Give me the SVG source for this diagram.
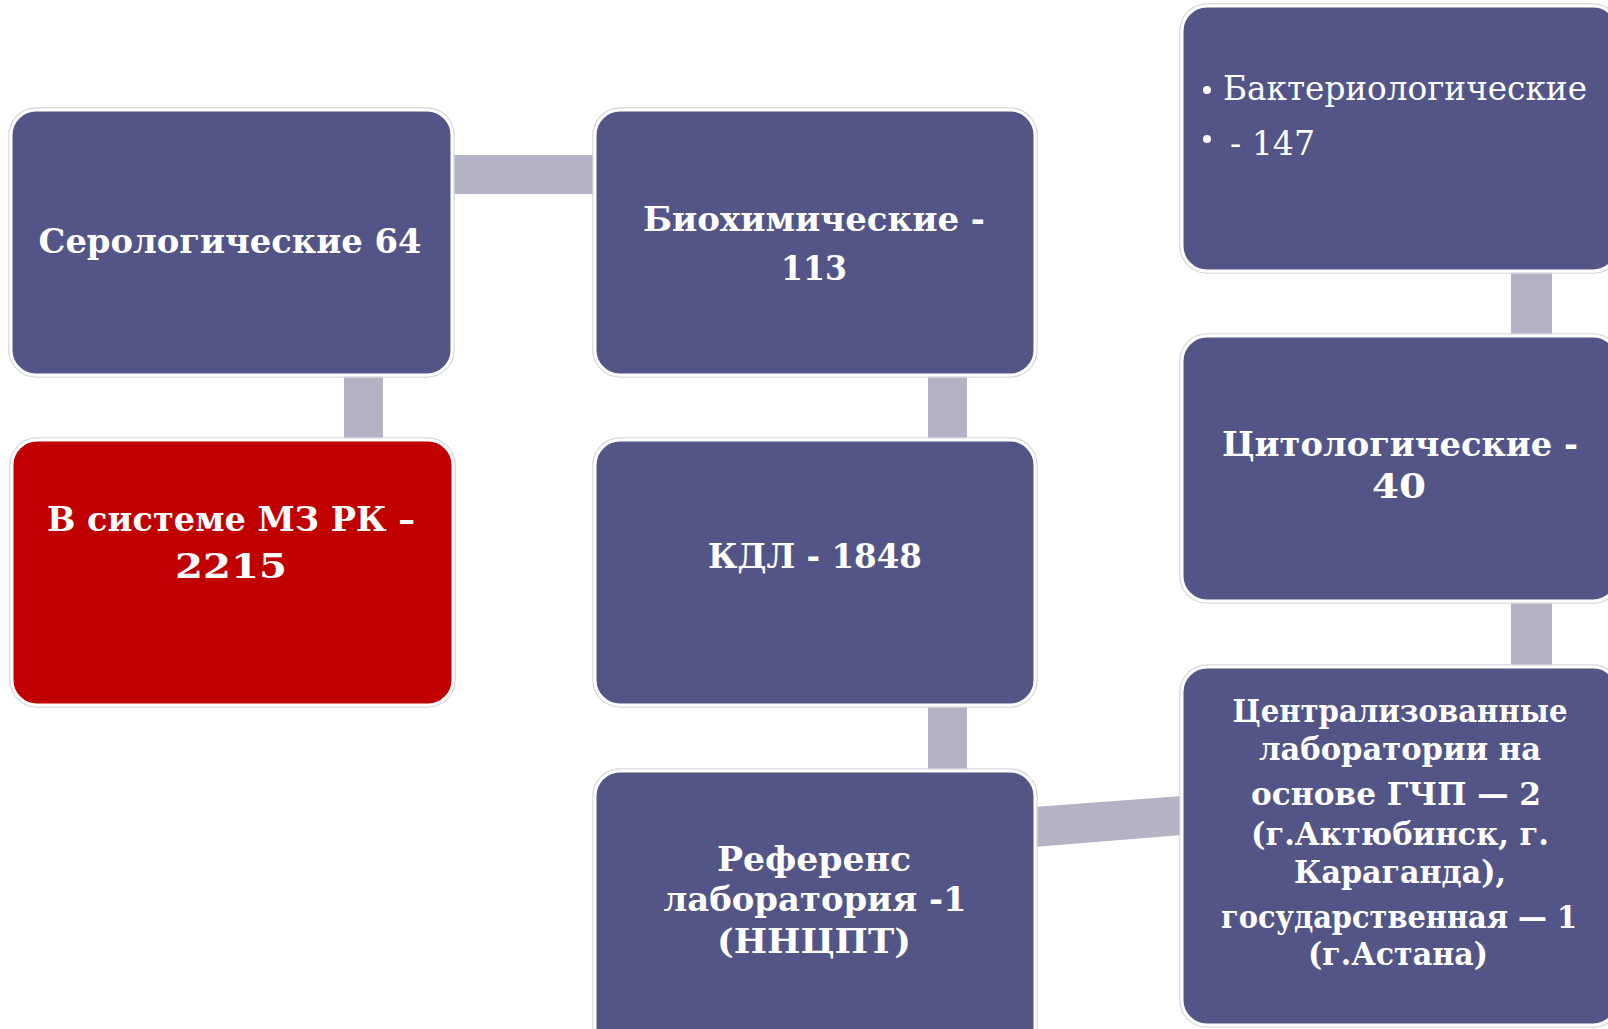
<svg xmlns="http://www.w3.org/2000/svg" width="1608" height="1029" viewBox="0 0 1608 1029">
  <style>
    .box { fill: #535587; stroke: #ffffff; stroke-width: 3; }
    .red { fill: #c00000; stroke: #ffffff; stroke-width: 3; }
    .halo { fill: none; stroke: #d6d6dc; stroke-width: 1.5; }
    .conn { fill: #b3b3c5; stroke: none; }
    .t { font-family: "DejaVu Serif", "Liberation Serif", serif; font-weight: bold; font-size: 34px; fill: #ffffff; text-anchor: middle; }
    .ts { font-family: "DejaVu Serif", "Liberation Serif", serif; font-weight: bold; font-size: 31px; fill: #ffffff; text-anchor: middle; }
    .tr { font-family: "DejaVu Serif", "Liberation Serif", serif; font-weight: normal; font-size: 34px; fill: #ffffff; }
  </style>
  <rect width="1608" height="1029" fill="#ffffff"/>

  <g id="connectors">
    <rect class="conn" x="451" y="155" width="144" height="39"/>
    <rect class="conn" x="344" y="374" width="39" height="67"/>
    <rect class="conn" x="928" y="374" width="39" height="67"/>
    <rect class="conn" x="928" y="705" width="39" height="67"/>
    <rect class="conn" x="1511" y="270" width="41" height="67"/>
    <rect class="conn" x="1511" y="600" width="41" height="68"/>
    <polygon class="conn" points="1034,807 1182,796 1182,835 1034,847"/>
  </g>

  <g id="n1">
    <rect class="halo" x="9" y="108" width="445" height="269" rx="27"/>
    <rect class="box" x="11" y="110" width="441" height="265" rx="25"/>
    <text class="t" x="230" y="253" textLength="383" lengthAdjust="spacingAndGlyphs">Серологические 64</text>
  </g>

  <g id="n2">
    <rect class="halo" x="593" y="108" width="444" height="269" rx="27"/>
    <rect class="box" x="595" y="110" width="440" height="265" rx="25"/>
    <text class="t" x="814" y="231" textLength="342" lengthAdjust="spacingAndGlyphs">Биохимические -</text>
    <text class="t" x="814" y="280" textLength="66" lengthAdjust="spacingAndGlyphs">113</text>
  </g>

  <g id="n3">
    <rect class="halo" x="1180" y="4" width="440" height="269" rx="27"/>
    <rect class="box" x="1182" y="6" width="436" height="265" rx="25"/>
    <circle cx="1207" cy="90" r="4" fill="#ffffff"/>
    <text class="tr" x="1223" y="100" textLength="364" lengthAdjust="spacingAndGlyphs">Бактериологические</text>
    <circle cx="1207" cy="139" r="4" fill="#ffffff"/>
    <text class="tr" x="1230" y="155" textLength="85" lengthAdjust="spacingAndGlyphs">- 147</text>
  </g>

  <g id="n4">
    <rect class="halo" x="10" y="438" width="445" height="269" rx="27"/>
    <rect class="red" x="12" y="440" width="441" height="265" rx="25"/>
    <text class="t" x="231" y="531" textLength="368" lengthAdjust="spacingAndGlyphs">В системе МЗ РК –</text>
    <text class="t" x="231" y="578" textLength="112" lengthAdjust="spacingAndGlyphs">2215</text>
  </g>

  <g id="n5">
    <rect class="halo" x="593" y="438" width="444" height="269" rx="27"/>
    <rect class="box" x="595" y="440" width="440" height="265" rx="25"/>
    <text class="t" x="815" y="568" textLength="214" lengthAdjust="spacingAndGlyphs">КДЛ - 1848</text>
  </g>

  <g id="n6">
    <rect class="halo" x="1180" y="334" width="440" height="269" rx="27"/>
    <rect class="box" x="1182" y="336" width="436" height="265" rx="25"/>
    <text class="t" x="1400" y="456" textLength="356" lengthAdjust="spacingAndGlyphs">Цитологические -</text>
    <text class="t" x="1399" y="498" textLength="54" lengthAdjust="spacingAndGlyphs">40</text>
  </g>

  <g id="n7">
    <rect class="halo" x="593" y="769" width="444" height="290" rx="27"/>
    <rect class="box" x="595" y="771" width="440" height="286" rx="25"/>
    <text class="t" x="814" y="871" textLength="194" lengthAdjust="spacingAndGlyphs">Референс</text>
    <text class="t" x="815" y="911" textLength="303" lengthAdjust="spacingAndGlyphs">лаборатория -1</text>
    <text class="t" x="814" y="953" textLength="194" lengthAdjust="spacingAndGlyphs">(ННЦПТ)</text>
  </g>

  <g id="n8">
    <rect class="halo" x="1180" y="665" width="440" height="362" rx="27"/>
    <rect class="box" x="1182" y="667" width="436" height="358" rx="25"/>
    <text class="ts" x="1400" y="722" textLength="335" lengthAdjust="spacingAndGlyphs">Централизованные</text>
    <text class="ts" x="1400" y="760" textLength="282" lengthAdjust="spacingAndGlyphs">лаборатории на</text>
    <text class="ts" x="1396" y="805" textLength="290" lengthAdjust="spacingAndGlyphs">основе ГЧП — 2</text>
    <text class="ts" x="1400" y="845" textLength="298" lengthAdjust="spacingAndGlyphs">(г.Актюбинск, г.</text>
    <text class="ts" x="1400" y="883" textLength="212" lengthAdjust="spacingAndGlyphs">Караганда),</text>
    <text class="ts" x="1399" y="928" textLength="356" lengthAdjust="spacingAndGlyphs">государственная — 1</text>
    <text class="ts" x="1398" y="965" textLength="180" lengthAdjust="spacingAndGlyphs">(г.Астана)</text>
  </g>
</svg>
